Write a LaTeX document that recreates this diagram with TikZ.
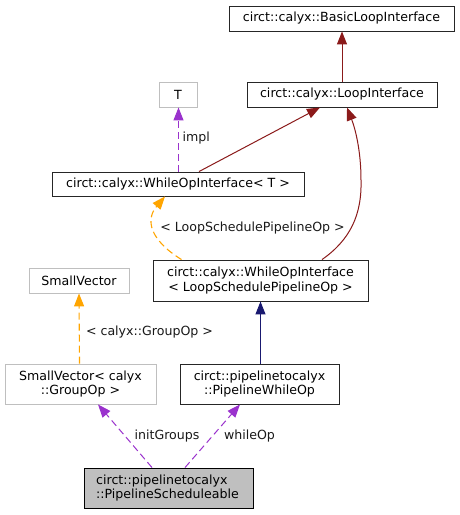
\documentclass[tikz,border=0pt]{standalone}
\usepackage{fontspec}
\setmainfont{DejaVu Sans}
\usetikzlibrary{arrows.meta}
\definecolor{edgered}{HTML}{8B1A1A}
\definecolor{edgeblue}{HTML}{191970}
\definecolor{edgeorange}{HTML}{FFA500}
\definecolor{edgepurple}{HTML}{9A32CD}
\definecolor{boxgray}{HTML}{BFBFBF}
\begin{document}
\begin{tikzpicture}[x=1pt,y=-1pt,
  font=\fontsize{12.6}{14.3}\selectfont,
  cls/.style={draw=black!85, line width=0.9pt, fill=white, inner sep=0pt, align=center},
  ext/.style={draw=boxgray, line width=0.9pt, fill=white, inner sep=0pt, align=center},
  main/.style={draw=black, line width=0.9pt, fill=boxgray, inner sep=0pt, align=left},
  lbl/.style={inner sep=0pt, text=black!90},
  inh/.style={draw=edgered, line width=1pt, -{Triangle[length=13pt,width=10pt,fill=edgered]}},
  pub/.style={draw=edgeblue, line width=1pt, -{Triangle[length=13pt,width=10pt,fill=edgeblue]}},
  tmpl/.style={draw=edgeorange, line width=1.1pt, dash pattern=on 7pt off 4pt, -{Triangle[length=13pt,width=10pt,fill=edgeorange]}},
  usage/.style={draw=edgepurple, line width=1pt, dash pattern=on 7pt off 4pt, -{Triangle[length=13pt,width=10pt,fill=edgepurple]}}
]
\useasboundingbox[fill=white] (0,0) rectangle (460,515);

\node[cls, minimum width=225pt, minimum height=25pt] (basic) at (341.5,18.5) {circt::calyx::BasicLoopInterface};
\node[cls, minimum width=190pt, minimum height=25pt] (loop) at (342,94.5) {circt::calyx::LoopInterface};
\node[ext, minimum width=38pt, minimum height=25pt] (T) at (178,94.5) {T};
\node[cls, minimum width=252pt, minimum height=24pt] (wt) at (178,184) {circt::calyx::WhileOpInterface< T >};
\node[cls, minimum width=215pt, minimum height=41pt] (lspo) at (260.5,280.5) {circt::calyx::WhileOpInterface\\< LoopSchedulePipelineOp >};
\node[ext, minimum width=100pt, minimum height=25pt] (vecbase) at (79,280.5) {SmallVector};
\node[ext, minimum width=151pt, minimum height=40pt] (vecgroup) at (80.5,384) {SmallVector< calyx\\::GroupOp >};
\node[cls, minimum width=159pt, minimum height=40pt] (pwo) at (259.5,384) {circt::pipelinetocalyx\\::PipelineWhileOp};
\node[main, minimum width=169pt, minimum height=40pt] (ps) at (168.5,488) {\hspace*{-2pt}circt::pipelinetocalyx\\\hspace*{-2pt}::PipelineScheduleable};

\draw[inh] ([xshift=0.5pt]basic.south |- loop.north) -- ([xshift=0.5pt]basic.south);
\draw[inh] ([xshift=21pt]wt.north) -- ([xshift=-22pt]loop.south);
\draw[inh] ([xshift=61.5pt]lspo.north) .. controls (350,240) and (362,215) .. (361,180)
  .. controls (361,150) and (355,128) .. ([xshift=5pt]loop.south);
\draw[usage] ([xshift=0.5pt]wt.north) -- ([xshift=0.5pt]T.south) node[lbl, pos=0.52, anchor=west, xshift=3.5pt] (implL) {impl};
\draw[tmpl] ([xshift=-79pt]lspo.north) .. controls (150,240) and (145,220) .. ([xshift=-13pt]wt.south);
\node[lbl] (lspoL) at (252.5,228) {< LoopSchedulePipelineOp >};
\draw[tmpl] ([xshift=-1pt]vecgroup.north) -- (vecbase.south);
\node[lbl] (svgL) at (149.5,332) {< calyx::GroupOp >};
\draw[pub] (pwo.north -| lspo.south) -- (lspo.south);
\draw[usage] ([xshift=-16.5pt]ps.north) -- ([xshift=17.5pt]vecgroup.south);
\draw[usage] ([xshift=16.5pt]ps.north) -- ([xshift=-19.5pt]pwo.south);
\node[lbl] (igL) at (167,436) {initGroups};
\node[lbl] (woL) at (249.5,436) {whileOp};
\end{tikzpicture}
\end{document}
